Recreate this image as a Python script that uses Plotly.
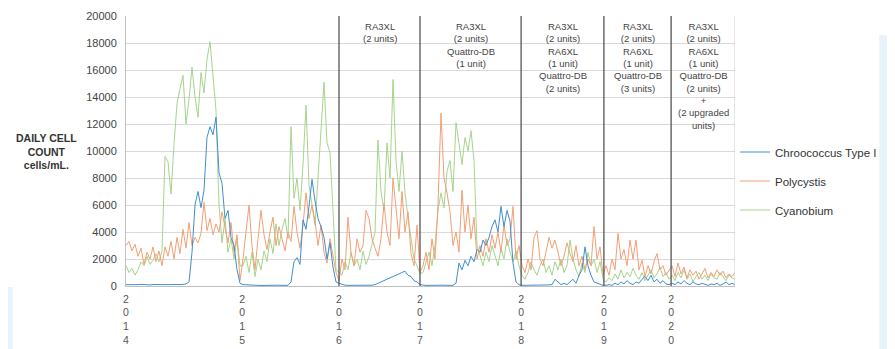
import plotly.graph_objects as go

# ---- data (daily cell counts, cells/mL), one sample every ~3 px of the original axis ----
chroococcus = (
    [100, 90, 110, 80, 100, 120, 90, 100, 80, 110, 100, 90, 120, 100, 80, 100, 110, 90, 100, 120, 150]
    + [300, 2500, 6000, 7000, 5800, 7100, 11000, 11800, 11200, 12500, 8400, 7600, 5000, 5600, 3600, 3000, 1200, 200]
    + [100, 80, 60, 50, 60, 50, 40, 50, 60, 50, 40, 50, 60, 50, 40, 50,
       300, 1800, 2100, 1600, 4900, 4200, 5900, 7900, 6300, 5000, 4400, 3600, 2000, 3200, 1400, 300]
    + [200, 100, 60, 50, 50, 40, 50, 60, 50, 40, 50, 60, 100, 200, 300, 400, 500, 600, 700, 800,
       900, 1000, 1100, 800, 700, 400, 300, 100]
    + [50, 40, 50, 60, 50, 40, 50, 60, 50, 40, 50,
       200, 1700, 1200, 1900, 1500, 2200, 1800, 2700, 2500, 3400, 3000, 3600, 4400, 4900, 4000, 5900,
       4400, 5600, 4800, 1700, 300, 100, 50]
    + [50, 40, 50, 60, 50, 40, 50, 60, 80, 100, 500, 300, 100, 200, 100, 300, 500, 200, 800, 1200,
       2900, 1500, 800, 300, 200, 100, 50]
    + [50, 100, 50, 200, 100, 300, 150, 400, 200, 100, 300, 200, 500, 700, 400, 800, 300, 500, 200,
       400, 150, 100]
    + [200, 100, 300, 150, 400, 200, 100, 300, 150, 100, 200, 100, 50, 150, 100, 200, 50, 150, 300,
       100, 200, 100]
)

polycystis = (
    [3000, 3300, 2600, 3100, 2200, 2800, 1600, 2500, 2000, 2900, 1800, 2600, 1500, 2900, 2200, 3300,
     2000, 3600, 2400, 4200, 2800, 4700, 3000, 3600, 3200, 3900, 6200, 4100, 5000, 3800, 4600, 4000,
     5500, 4300, 3200, 4700, 2500, 3800, 400]
    + [2000, 4000, 6000, 3000, 1200, 3500, 5600, 3800, 2700, 4000, 5100, 3000, 4400, 3500, 2600, 4000,
       3300, 5900, 4000, 2800, 4500, 6900, 5000, 6000, 4800, 3000, 4500, 2500, 1700, 3500, 2200, 1000]
    + [400, 2000, 1200, 5100, 2500, 1500, 3500, 2500, 3000, 5600, 5000, 3500, 2800, 2200, 3500, 6100,
       4000, 3000, 8000, 6000, 3500, 7000, 4000, 5500, 2400, 1500, 4500, 1000]
    + [1500, 2500, 1200, 3500, 2000, 6000, 12800, 8000, 6900, 5500, 3000, 4000, 2500, 7100, 4000, 6000,
       3500, 5100, 2000, 3000, 2200, 3500, 2500, 3800, 2800, 4000, 2500, 4500, 3000, 3500, 5900, 2000,
       3000, 1500]
    + [1000, 2000, 1200, 3600, 4100, 2000, 1500, 2500, 3600, 2800, 3400, 2500, 1500, 2200, 3200, 2400,
       1800, 3000, 1500, 2200, 1200, 2000, 1500, 4400, 2000, 2900, 800]
    + [1500, 800, 2000, 1200, 3900, 2000, 2700, 1500, 3400, 2000, 3400, 1200, 1900, 700, 1500, 900,
       1800, 2400, 1200, 1500, 800, 1200]
    + [1500, 700, 1700, 900, 1400, 600, 1200, 800, 1100, 500, 900, 1300, 600, 1000, 700, 1200, 800,
       1100, 600, 900, 700, 1000]
)

cyanobium = (
    [1500, 1000, 1300, 800, 1200, 1800, 1500, 2200, 1600, 1900, 2400, 1800, 2600,
     9600, 9200, 6800, 10500, 13500, 14600, 15600, 12000, 13800, 16200, 14000, 12500, 15800, 14300,
     16800, 18100, 15500, 13000, 6000, 3200,
     5000, 2500, 3500, 2000, 3500, 1500]
    + [1500, 2200, 1000, 2500, 700, 2000, 1200, 2600, 1800, 3500, 2400, 4600, 3000, 4200, 5000, 3500,
       11800, 6500, 8000, 5600, 9000, 13400, 7500, 6000, 4500, 8000, 12000, 15100, 10600, 9900, 5600, 1200]
    + [1000, 800, 1800, 1200, 2500, 1500, 2000, 1200, 2600, 1600, 2200, 3000, 4000, 10800, 7000, 5600,
       10600, 8000, 15300, 9300, 7000, 10000, 6900, 5100, 3500, 2000, 1500, 900]
    + [1000, 1800, 2500, 1500, 3000, 5600, 6900, 5800, 8500, 9300, 7000, 12100, 10600, 9000, 11000,
       10000, 11500, 9300, 3000, 2200, 1500, 2500, 1800, 3000, 2200, 1500, 2800, 2000, 3500, 2500,
       1800, 2600, 1500, 800]
    + [500, 1000, 1800, 1200, 800, 1500, 2000, 1000, 1500, 800, 1800, 1200, 2000, 1000, 1500, 3400,
       2000, 1200, 700, 1700, 1000, 2500, 1500, 2000, 1000, 1800, 500]
    + [300, 600, 400, 900, 500, 1200, 600, 1000, 700, 1300, 800, 500, 1000, 400, 800, 1200, 600, 900,
       1400, 700, 1000, 500]
    + [800, 400, 1000, 600, 1200, 500, 900, 300, 700, 1000, 500, 800, 400, 900, 600, 500, 1000, 700,
       400, 800, 600, 500]
)

years = ["2014", "2015", "2016", "2017", "2018", "2019", "2020"]
year_start = [0, 38.7, 71, 98, 131.7, 159.3, 181.7]  # sample index where each year begins

equipment = [
    "RA3XL<br>(2 units)",
    "RA3XL<br>(2 units)<br>Quattro-DB<br>(1 unit)",
    "RA3XL<br>(2 units)<br>RA6XL<br>(1 unit)<br>Quattro-DB<br>(2 units)",
    "RA3XL<br>(2 units)<br>RA6XL<br>(1 unit)<br>Quattro-DB<br>(3 units)",
    "RA3XL<br>(2 units)<br>RA6XL<br>(1 unit)<br>Quattro-DB<br>(2 units)<br>+<br>(2 upgraded<br>units)",
]

n = len(chroococcus)
assert n == len(polycystis) == len(cyanobium), (len(chroococcus), len(polycystis), len(cyanobium))
idx = list(range(n))
x_end = n - 1

FONT = "Liberation Sans, Arial, sans-serif"

fig = go.Figure()
fig.add_trace(go.Scatter(x=idx, y=cyanobium, mode="lines", name="Cyanobium",
                         line=dict(color="#a6d48c", width=1), legendrank=3, legendgroup="c"))
fig.add_trace(go.Scatter(x=idx, y=polycystis, mode="lines", name="Polycystis",
                         line=dict(color="#f39f74", width=1), legendrank=2, legendgroup="b"))
fig.add_trace(go.Scatter(x=idx, y=chroococcus, mode="lines", name="Chroococcus Type I",
                         line=dict(color="#3f8fcc", width=1), legendrank=1, legendgroup="a"))

shapes = []
# decorative light-blue background pieces from the source page
shapes.append(dict(type="rect", xref="paper", yref="paper", x0=1.237, x1=1.3, y0=-0.3, y1=0.93,
                   fillcolor="#e6f3fb", line=dict(width=0), layer="below"))
shapes.append(dict(type="rect", xref="paper", yref="paper", x0=-0.21, x1=-0.186, y0=-0.3, y1=-0.004,
                   fillcolor="#e6f3fb", line=dict(width=0), layer="below"))
# year dividers for the equipment periods
for xs in year_start[2:]:
    shapes.append(dict(type="line", xref="x", yref="paper", x0=xs, x1=xs, y0=0, y1=1,
                       line=dict(color="#555555", width=1.3)))
shapes.append(dict(type="line", xref="x", yref="paper", x0=x_end, x1=x_end, y0=0, y1=1,
                   line=dict(color="#c8c8c8", width=1)))

annotations = []
bounds = year_start[2:] + [x_end]
for k, txt in enumerate(equipment):
    xc = (bounds[k] + bounds[k + 1]) / 2
    annotations.append(dict(x=xc, xref="x", y=0.989, yref="paper", yanchor="top", xanchor="center",
                            text=txt, showarrow=False, align="center",
                            font=dict(family=FONT, size=9.5, color="#444")))
annotations.append(dict(x=-0.131, xref="paper", y=0.5, yref="paper", xanchor="center", yanchor="middle",
                        text="<b>DAILY CELL<br>COUNT<br>cells/mL.</b>", showarrow=False, align="center",
                        font=dict(family=FONT, size=10.5, color="#333")))

# the page body adds an 8px offset, so the figure is 8px smaller and margins are shifted
fig.update_layout(
    width=887, height=341,
    margin=dict(l=118, r=160, t=8, b=63, autoexpand=False),
    paper_bgcolor="white", plot_bgcolor="white",
    font=dict(family=FONT, color="#444"),
    shapes=shapes, annotations=annotations,
    showlegend=True,
    legend=dict(x=1.0, xanchor="left", y=0.55, yanchor="top", traceorder="grouped",
                tracegroupgap=10, font=dict(family=FONT, size=11.5, color="#333"),
                bgcolor="rgba(0,0,0,0)"),
)
fig.update_xaxes(range=[0, x_end], tickmode="array", tickvals=year_start,
                 ticktext=["<br>".join(list(y)) for y in years], automargin=False,
                 showgrid=False, zeroline=False, showline=True, linecolor="#bfbfbf",
                 ticks="", ticklabelstandoff=3, tickfont=dict(family=FONT, size=10.5, color="#555"))
fig.update_yaxes(range=[0, 20000], dtick=2000, tickformat="d", showgrid=True, gridcolor="#d9d9d9",
                 zeroline=False, automargin=False,
                 showline=True, linecolor="#bfbfbf", ticks="", ticklabelstandoff=6,
                 tickfont=dict(family=FONT, size=11, color="#444"))

fig.write_html("out.html")
